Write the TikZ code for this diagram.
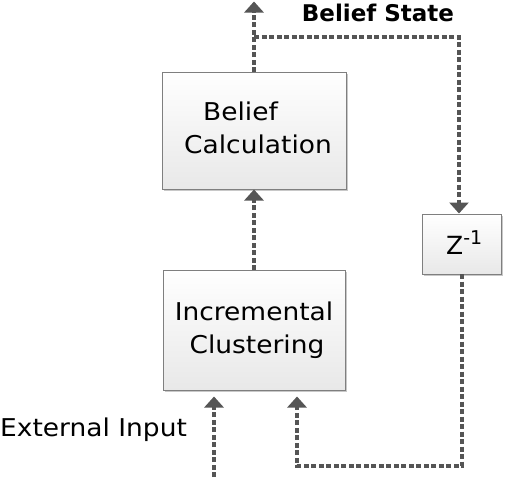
\documentclass[tikz,border=0pt]{standalone}
\usepackage{fontspec}
\setmainfont{DejaVu Sans}
\newfontfamily\widefont[FakeStretch=1.08]{DejaVu Sans}
\usetikzlibrary{arrows.meta,shadows}
\definecolor{linegray}{HTML}{555555}
\definecolor{boxborder}{HTML}{7F7F7F}
\definecolor{boxbottom}{HTML}{E8E8E8}
\definecolor{shadowgray}{HTML}{C8C8C8}
\tikzset{
  blockbox/.style={draw=boxborder, line width=0.8pt, top color=white, bottom color=boxbottom,
    drop shadow={shadow xshift=2pt, shadow yshift=-2pt, fill=shadowgray, opacity=1},
    inner sep=0pt, outer sep=0pt},
  flow/.style={draw=linegray, line width=4pt, dash pattern=on 5pt off 2.5pt,
    -{Triangle[width=19pt,length=11pt]}, shorten >=0.5pt},
  lbl/.style={font=\widefont\fontsize{24.5}{33}\selectfont, inner sep=0pt}
}
\begin{document}
\begin{tikzpicture}[x=1pt,y=-1pt]
\useasboundingbox (0,0) rectangle (506,477);
% boxes
\node[blockbox, minimum width=184pt, minimum height=117pt, anchor=north west] (belief) at (162,72) {};
\node[blockbox, minimum width=182pt, minimum height=120pt, anchor=north west] (clust) at (163,270) {};
\node[blockbox, minimum width=79pt, minimum height=60pt, anchor=north west] (zinv) at (422,214) {};
% texts
\node[lbl, anchor=base west] (t1) at (203,120) {Belief};
\node[lbl, anchor=base west] (t2) at (184,153) {Calculation};
\node[lbl, anchor=base] (t3) at (254,320) {Incremental};
\node[lbl, anchor=base] (t4) at (257,353) {Clustering};
\node[font=\fontsize{25}{30}\selectfont, inner sep=0pt, anchor=base west] (t5) at (446,254) {Z\raisebox{10pt}{\fontsize{19}{19}\selectfont -1}};
\node[font=\fontsize{23}{28}\selectfont\bfseries, inner sep=0pt, anchor=base] (bs) at (378,21) {Belief State};
\node[lbl, anchor=base west] (ext) at (0,436) {External Input};
% coordinates
\coordinate (outtop) at (254,1);
\coordinate (branch) at (254,37);
\coordinate (corner1) at (459,37);
\coordinate (zbot) at (461.5,274);
\coordinate (corner2) at (461.5,466);
\coordinate (corner3) at (297,466);
\coordinate (fbin) at (297,396);
\coordinate (extbot) at (214,477);
\coordinate (extin) at (214,396);
% connectors
\draw[flow] (belief.north -| branch) -- (outtop);
\draw[flow] (branch) -- (corner1) -- (zinv.north -| corner1);
\draw[flow] (clust.north -| branch) -- (belief.south -| branch);
\draw[flow] (zbot) -- (corner2) -- (corner3) -- (fbin);
\draw[flow] (extbot) -- (extin);
\end{tikzpicture}
\end{document}
